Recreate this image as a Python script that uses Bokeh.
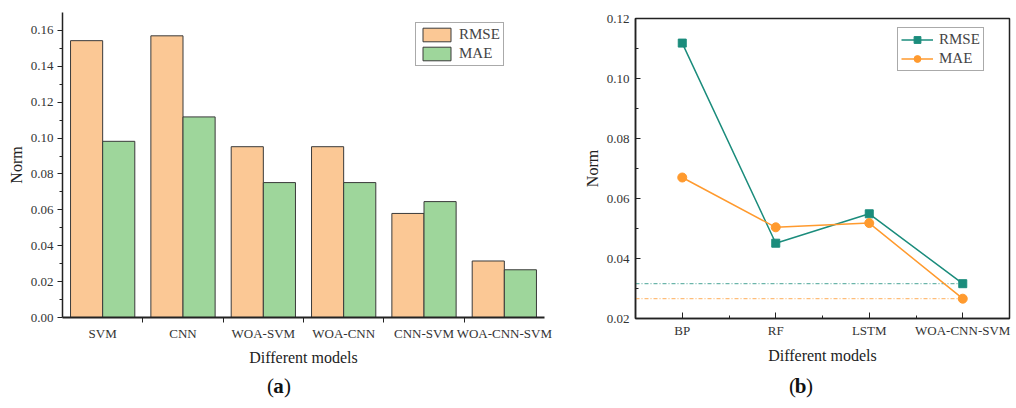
from bokeh.plotting import figure
from bokeh.layouts import row, column
from bokeh.models import FixedTicker, Legend, LegendItem, Label, CustomJSTickFormatter, NumeralTickFormatter
from bokeh.embed import file_html
from bokeh.resources import INLINE

# ---- data (a)
models_a = ["SVM", "CNN", "WOA-SVM", "WOA-CNN", "CNN-SVM", "WOA-CNN-SVM"]
rmse_a = [0.1543, 0.1570, 0.0952, 0.0952, 0.0580, 0.0315]
mae_a = [0.0982, 0.1118, 0.0752, 0.0752, 0.0646, 0.0266]

# ---- data (b)
models_b = ["BP", "RF", "LSTM", "WOA-CNN-SVM"]
rmse_b = [0.1118, 0.0451, 0.0549, 0.0316]
mae_b = [0.0670, 0.0504, 0.0518, 0.0266]

FONT = "Liberation Serif"
C_RMSE_BAR = "#FBC895"
C_MAE_BAR = "#9ED69B"
C_TEAL = "#1B8C7C"
C_ORANGE = "#FF9A2E"
STRIP_H = 38


def cat_formatter(labels):
    return CustomJSTickFormatter(args=dict(labels=labels),
                                 code="const i = Math.round(tick); return (Math.abs(tick - i) < 1e-6 && i >= 0 && i < labels.length) ? labels[i] : '';")


def style_axes(p):
    for ax in (p.xaxis[0], p.yaxis[0]):
        ax.major_label_text_font = FONT
        ax.major_label_text_font_size = "13px"
        ax.major_label_text_font_style = "normal"
        ax.major_label_text_color = "#333333"
        ax.axis_label_text_font = FONT
        ax.axis_label_text_font_size = "16px"
        ax.axis_label_text_font_style = "normal"
        ax.axis_label_text_color = "#222222"
        ax.axis_line_color = "#222222"
        ax.major_tick_line_color = "#222222"
        ax.minor_tick_line_color = "#222222"


def caption_strip(width, left, right, x_range, x_center, letter, unit_px):
    s = figure(width=width, height=STRIP_H, x_range=x_range, y_range=(0, 1),
               x_axis_type=None, y_axis_type=None, output_backend="svg", toolbar_location=None,
               min_border=0, min_border_left=left, min_border_right=right)
    s.outline_line_color = None
    s.grid.visible = False
    for txt, dx, bold in [("(", -8, False), (letter, 0, True), (")", 9, False)]:
        s.add_layout(Label(x=x_center + dx / unit_px, y=0.6, text=txt, text_font=FONT, text_font_size="21px",
                           text_font_style="bold" if bold else "normal", text_align="center",
                           text_baseline="middle", text_color="#111111"))
    return s


# ================= (a) bar chart =================
pa = figure(width=560, height=408 - STRIP_H, x_range=(-0.5, 5.5), y_range=(0, 0.170),
            output_backend="svg", toolbar_location=None,
            min_border_left=62, min_border_right=16, min_border_top=12, min_border_bottom=91 - STRIP_H)
pa.outline_line_color = None
pa.grid.visible = False

xs = list(range(len(models_a)))
x_r = [x - 0.2 for x in xs]
x_m = [x + 0.2 for x in xs]
r1 = pa.vbar(x=x_r, top=rmse_a, width=0.4, fill_color=C_RMSE_BAR, line_color="#3a3a3a", line_width=1)
r2 = pa.vbar(x=x_m, top=mae_a, width=0.4, fill_color=C_MAE_BAR, line_color="#3a3a3a", line_width=1)

pa.xaxis.ticker = FixedTicker(ticks=xs, minor_ticks=[x + 0.5 for x in xs[:-1]])
pa.xaxis.formatter = cat_formatter(models_a)
pa.xaxis.major_tick_out = 0
pa.xaxis.major_tick_in = 0
pa.xaxis.minor_tick_out = 5
pa.xaxis.minor_tick_in = 0
pa.xaxis.axis_line_width = 2
pa.xaxis.axis_label = "Different models"
pa.xaxis.major_label_standoff = 3
pa.xaxis.axis_label_standoff = 5

pa.yaxis.ticker = FixedTicker(ticks=[0.0, 0.02, 0.04, 0.06, 0.08, 0.10, 0.12, 0.14, 0.16],
                              minor_ticks=[0.01, 0.03, 0.05, 0.07, 0.09, 0.11, 0.13, 0.15])
pa.yaxis.formatter = NumeralTickFormatter(format="0.00")
pa.yaxis.major_tick_out = 5
pa.yaxis.major_tick_in = 0
pa.yaxis.minor_tick_out = 3
pa.yaxis.minor_tick_in = 0
pa.yaxis.axis_line_width = 1.5
pa.yaxis.axis_label = "Norm"
pa.yaxis.major_label_standoff = 4
pa.yaxis.axis_label_standoff = 3
style_axes(pa)

leg_a = Legend(items=[LegendItem(label="RMSE", renderers=[r1]), LegendItem(label="MAE", renderers=[r2])],
               location=(353, 251), glyph_width=35, glyph_height=17, label_height=17,
               padding=3, spacing=2, margin=0, label_standoff=5,
               label_text_font=FONT, label_text_font_size="15px",
               border_line_color="#555555", border_line_width=1, background_fill_alpha=1)
pa.add_layout(leg_a)

sa = caption_strip(560, 62, 16, pa.x_range, 2.19, "a", 80.3)

# ================= (b) line chart =================
pb = figure(width=456, height=408 - STRIP_H, x_range=(-0.5, 3.5), y_range=(0.02, 0.12),
            output_backend="svg", toolbar_location=None,
            min_border_left=75, min_border_right=7, min_border_top=18, min_border_bottom=90 - STRIP_H)
pb.grid.visible = False
pb.outline_line_color = "#222222"
pb.outline_line_width = 1.5

xb = list(range(len(models_b)))
pb.line([-0.5, xb[-1]], [rmse_b[-1], rmse_b[-1]], line_color=C_TEAL, line_width=1,
        line_dash="4 2 1 2", line_alpha=0.8)
pb.line([-0.5, xb[-1]], [mae_b[-1], mae_b[-1]], line_color=C_ORANGE, line_width=1,
        line_dash="4 2 1 2", line_alpha=0.8)

l1 = pb.line(xb, rmse_b, line_color=C_TEAL, line_width=1.5)
m1 = pb.scatter(xb, rmse_b, marker="square", size=8, fill_color=C_TEAL, line_color=C_TEAL)
l2 = pb.line(xb, mae_b, line_color=C_ORANGE, line_width=1.5)
m2 = pb.scatter(xb, mae_b, marker="circle", size=9, fill_color=C_ORANGE, line_color=C_ORANGE)

pb.xaxis.ticker = FixedTicker(ticks=xb, minor_ticks=[0.5, 1.5, 2.5])
pb.xaxis.formatter = cat_formatter(models_b)
pb.xaxis.major_tick_in = 6
pb.xaxis.major_tick_out = 0
pb.xaxis.minor_tick_in = 3
pb.xaxis.minor_tick_out = 0
pb.xaxis.axis_line_width = 1.5
pb.xaxis.axis_label = "Different models"
pb.xaxis.major_label_standoff = 4
pb.xaxis.axis_label_standoff = 6

pb.yaxis.ticker = FixedTicker(ticks=[0.02, 0.04, 0.06, 0.08, 0.10, 0.12],
                              minor_ticks=[0.03, 0.05, 0.07, 0.09, 0.11])
pb.yaxis.formatter = NumeralTickFormatter(format="0.00")
pb.yaxis.major_tick_in = 5
pb.yaxis.major_tick_out = 0
pb.yaxis.minor_tick_in = 3
pb.yaxis.minor_tick_out = 0
pb.yaxis.axis_line_width = 1.5
pb.yaxis.axis_label = "Norm"
pb.yaxis.major_label_standoff = 6
pb.yaxis.axis_label_standoff = 3
style_axes(pb)

leg_b = Legend(items=[LegendItem(label="RMSE", renderers=[l1, m1]), LegendItem(label="MAE", renderers=[l2, m2])],
               location=(262, 247), glyph_width=32, glyph_height=17, label_height=17,
               padding=3, spacing=2, margin=0, label_standoff=6,
               label_text_font=FONT, label_text_font_size="15px",
               border_line_color="#555555", border_line_width=1.5, background_fill_alpha=1)
pb.add_layout(leg_b)

sb = caption_strip(456, 75, 7, pb.x_range, 1.265, "b", 93.3)

layout = row(column(pa, sa, spacing=0), column(pb, sb, spacing=0), spacing=0)
open("out.html", "w").write(file_html(layout, INLINE))
